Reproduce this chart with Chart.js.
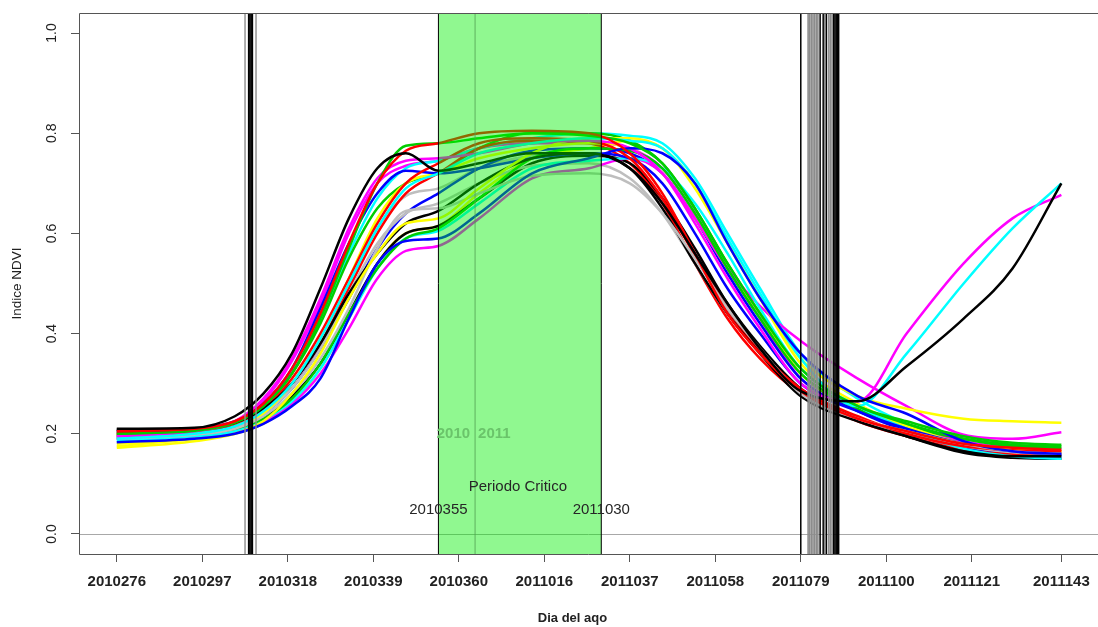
<!DOCTYPE html>
<html lang="es">
<head>
    <meta charset="UTF-8">
    <meta name="viewport" content="width=device-width, initial-scale=1.0">
    <title>Indice NDVI</title>
    <style>
        html, body { margin: 0; padding: 0; background: #fff; overflow: hidden; }
        #wrap { position: relative; width: 1098px; height: 627px; }
    </style>
</head>
<body>
    <div id="wrap"><canvas id="ndvi"></canvas></div>

    <script src="https://cdn.jsdelivr.net/npm/chart.js"></script>
    <script>
        // days counted from Jan 1 2010 (2011xxx -> 365 + xxx)
        var dias = [276, 295, 305, 312, 319, 326, 333, 340, 347, 355, 365, 378, 392, 402, 410, 418, 426, 434, 444, 458, 470, 484, 496, 508];

        var tickDias = [276, 297, 318, 339, 360, 381, 402, 423, 444, 465, 486, 508];
        var tickEtiquetas = ['2010276', '2010297', '2010318', '2010339', '2010360', '2011016', '2011037', '2011058', '2011079', '2011100', '2011121', '2011143'];
        var yTicks = [0, 0.2, 0.4, 0.6, 0.8, 1.0];

        // default R palette
        var paleta = ['#000000', '#FF0000', '#00CD00', '#0000FF', '#00FFFF', '#FF00FF', '#FFFF00', '#BEBEBE'];

        var s01 = [0.210,0.212,0.235,0.280,0.360,0.490,0.630,0.730,0.760,0.725,0.740,0.760,0.760,0.730,0.660,0.560,0.460,0.370,0.285,0.265,0.335,0.430,0.530,0.700];
        var s02 = [0.205,0.210,0.225,0.260,0.330,0.440,0.580,0.700,0.765,0.780,0.800,0.805,0.800,0.760,0.680,0.560,0.440,0.360,0.285,0.230,0.205,0.180,0.172,0.168];
        var s03 = [0.200,0.206,0.222,0.255,0.320,0.430,0.570,0.700,0.775,0.780,0.790,0.800,0.795,0.780,0.740,0.650,0.540,0.440,0.330,0.255,0.225,0.195,0.182,0.178];
        var s04 = [0.183,0.190,0.200,0.220,0.255,0.310,0.430,0.540,0.585,0.590,0.640,0.720,0.750,0.770,0.760,0.700,0.580,0.470,0.360,0.275,0.240,0.185,0.165,0.160];
        var s05 = [0.190,0.200,0.215,0.245,0.300,0.390,0.500,0.610,0.690,0.720,0.760,0.780,0.790,0.785,0.770,0.700,0.590,0.480,0.350,0.255,0.360,0.500,0.610,0.700];
        var s06 = [0.195,0.205,0.225,0.270,0.350,0.470,0.610,0.710,0.745,0.750,0.760,0.780,0.785,0.770,0.720,0.620,0.510,0.410,0.300,0.265,0.400,0.540,0.630,0.677];
        var s07 = [0.172,0.185,0.200,0.225,0.280,0.360,0.470,0.560,0.620,0.630,0.690,0.760,0.790,0.790,0.770,0.700,0.580,0.470,0.350,0.275,0.250,0.230,0.225,0.222];
        var s08 = [0.190,0.198,0.210,0.235,0.280,0.350,0.450,0.570,0.645,0.650,0.680,0.715,0.720,0.700,0.640,0.550,0.450,0.370,0.280,0.230,0.205,0.180,0.165,0.160];
        var s09 = [0.208,0.210,0.222,0.250,0.300,0.380,0.480,0.560,0.620,0.645,0.700,0.750,0.760,0.730,0.650,0.540,0.440,0.360,0.275,0.225,0.195,0.165,0.155,0.155];
        var s10 = [0.200,0.205,0.220,0.250,0.310,0.400,0.510,0.620,0.700,0.740,0.780,0.790,0.785,0.750,0.670,0.555,0.450,0.365,0.290,0.235,0.200,0.175,0.167,0.165];
        var s11 = [0.195,0.200,0.210,0.230,0.270,0.340,0.440,0.530,0.590,0.610,0.670,0.750,0.770,0.765,0.730,0.640,0.530,0.430,0.320,0.255,0.220,0.190,0.175,0.172];
        var s12 = [0.205,0.210,0.225,0.260,0.330,0.450,0.580,0.680,0.725,0.720,0.730,0.750,0.760,0.750,0.700,0.600,0.490,0.400,0.300,0.245,0.210,0.180,0.165,0.158];
        var s13 = [0.185,0.195,0.205,0.228,0.265,0.330,0.430,0.530,0.590,0.605,0.660,0.730,0.745,0.750,0.730,0.660,0.560,0.450,0.330,0.255,0.210,0.170,0.155,0.150];
        var s14 = [0.190,0.195,0.205,0.225,0.260,0.320,0.410,0.510,0.565,0.575,0.630,0.710,0.730,0.750,0.720,0.630,0.530,0.455,0.385,0.310,0.255,0.198,0.190,0.203];
        var s15 = [0.180,0.190,0.205,0.240,0.300,0.390,0.510,0.630,0.700,0.720,0.750,0.770,0.780,0.770,0.720,0.630,0.530,0.440,0.320,0.255,0.215,0.180,0.168,0.165];
        var s16 = [0.195,0.200,0.212,0.240,0.290,0.370,0.480,0.580,0.640,0.660,0.700,0.735,0.740,0.710,0.640,0.540,0.440,0.365,0.285,0.230,0.200,0.175,0.163,0.160];
        var s17 = [0.205,0.208,0.215,0.235,0.275,0.340,0.440,0.540,0.600,0.615,0.670,0.740,0.755,0.740,0.670,0.570,0.460,0.375,0.290,0.230,0.195,0.162,0.152,0.150];
        var s18 = [0.200,0.205,0.218,0.245,0.300,0.380,0.490,0.600,0.680,0.720,0.770,0.785,0.780,0.740,0.660,0.540,0.430,0.350,0.280,0.225,0.195,0.168,0.160,0.160];
        var s19 = [0.200,0.205,0.220,0.255,0.320,0.420,0.550,0.650,0.700,0.720,0.770,0.800,0.800,0.785,0.740,0.650,0.540,0.440,0.320,0.250,0.215,0.190,0.178,0.175];
        var s20 = [0.190,0.198,0.212,0.240,0.290,0.370,0.470,0.570,0.640,0.680,0.730,0.765,0.770,0.760,0.720,0.630,0.520,0.420,0.310,0.245,0.205,0.172,0.158,0.155];
        var s21 = [0.192,0.200,0.218,0.250,0.320,0.430,0.560,0.670,0.730,0.745,0.770,0.790,0.800,0.795,0.780,0.710,0.600,0.490,0.360,0.270,0.220,0.175,0.155,0.150];
        var s22 = [0.195,0.203,0.222,0.265,0.345,0.460,0.600,0.700,0.735,0.745,0.770,0.780,0.780,0.770,0.730,0.640,0.530,0.430,0.310,0.250,0.215,0.185,0.172,0.170];
        var s23 = [0.175,0.190,0.200,0.220,0.260,0.330,0.430,0.540,0.600,0.615,0.680,0.750,0.770,0.785,0.770,0.690,0.580,0.470,0.340,0.260,0.215,0.180,0.168,0.165];
        var s24 = [0.195,0.200,0.215,0.245,0.300,0.390,0.500,0.610,0.675,0.690,0.730,0.755,0.760,0.730,0.660,0.560,0.450,0.370,0.280,0.228,0.198,0.172,0.162,0.160];

        var series = [s01, s02, s03, s04, s05, s06, s07, s08, s09, s10, s11, s12,
                      s13, s14, s15, s16, s17, s18, s19, s20, s21, s22, s23, s24];

        // start / end of season dates (vertical marks)
        var inicioNegro = [308.4, 308.7, 309.0, 309.3];
        var inicioGris = [307.5, 310.2];
        var finNegro = [444.0, 448.75, 449.5, 450.3, 452.1, 452.4, 452.7, 453.0, 453.3];
        var finGris = [445.8, 446.2, 446.6, 447.0, 447.4, 447.8, 448.2, 449.9, 450.9, 451.3, 451.7];

        var periodoIni = 355;
        var periodoFin = 395;
        var cambioAnio = 364;

        var FONT = 'Arial, "Liberation Sans", Helvetica, sans-serif';

        var datasets = series.map(function(vals, i) {
            return {
                label: 'p' + (i + 1),
                data: dias.map(function(d, k) { return { x: d, y: vals[k] }; }),
                borderColor: paleta[i % paleta.length],
                borderWidth: 2.5,
                pointRadius: 0,
                fill: false,
                cubicInterpolationMode: 'monotone'
            };
        });

        function vline(chart, d, color, w) {
            var ctx = chart.ctx, a = chart.chartArea;
            var x = chart.scales.x.getPixelForValue(d);
            ctx.strokeStyle = color;
            ctx.lineWidth = w;
            ctx.beginPath();
            ctx.moveTo(x, a.top);
            ctx.lineTo(x, a.bottom);
            ctx.stroke();
        }

        var extras = {
            id: 'extras',
            beforeDatasetsDraw: function(chart) {
                var ctx = chart.ctx, a = chart.chartArea;
                var y0 = Math.round(chart.scales.y.getPixelForValue(0)) + 0.5;
                ctx.save();
                ctx.strokeStyle = '#a8a8a8';
                ctx.lineWidth = 1;
                ctx.beginPath();
                ctx.moveTo(a.left, y0);
                ctx.lineTo(a.right, y0);
                ctx.stroke();
                ctx.restore();
            },
            afterDatasetsDraw: function(chart) {
                var ctx = chart.ctx, a = chart.chartArea;
                var xs = chart.scales.x, ys = chart.scales.y;
                ctx.save();
                ctx.beginPath();
                ctx.rect(a.left, a.top, a.right - a.left, a.bottom - a.top);
                ctx.clip();

                inicioGris.forEach(function(d) { vline(chart, d, '#8c8c8c', 1.4); });
                inicioNegro.forEach(function(d) { vline(chart, d, '#000', 1.6); });
                finGris.forEach(function(d) { vline(chart, d, '#8c8c8c', 1.6); });
                finNegro.forEach(function(d) { vline(chart, d, '#000', 1.5); });

                // critical period band, drawn over the curves
                var x0 = xs.getPixelForValue(periodoIni);
                var x1 = xs.getPixelForValue(periodoFin);
                ctx.fillStyle = 'rgba(0,239,0,0.435)';
                ctx.fillRect(x0, a.top, x1 - x0, a.bottom - a.top);
                vline(chart, periodoIni, '#000', 1);
                vline(chart, periodoFin, '#000', 1);
                vline(chart, cambioAnio, 'rgba(80,160,80,0.8)', 1);

                var xc = xs.getPixelForValue(cambioAnio);
                ctx.font = 'bold 15px ' + FONT;
                ctx.fillStyle = 'rgb(106,196,106)';
                ctx.textBaseline = 'middle';
                ctx.textAlign = 'right';
                ctx.fillText('2010', xc - 5, ys.getPixelForValue(0.2));
                ctx.textAlign = 'left';
                ctx.fillText('2011', xc + 3, ys.getPixelForValue(0.2));

                ctx.font = '15px ' + FONT;
                ctx.fillStyle = '#262626';
                ctx.textAlign = 'center';
                ctx.fillText('Periodo Critico', xs.getPixelForValue((periodoIni + periodoFin) / 2 - 0.5), ys.getPixelForValue(0.095));
                ctx.fillText('2010355', x0, ys.getPixelForValue(0.048));
                ctx.fillText('2011030', x1, ys.getPixelForValue(0.048));
                ctx.restore();
            },
            afterDraw: function(chart) {
                var ctx = chart.ctx, a = chart.chartArea, ys = chart.scales.y;
                ctx.save();
                // box (right side falls outside the canvas)
                ctx.strokeStyle = '#555';
                ctx.lineWidth = 1;
                ctx.beginPath();
                ctx.moveTo(chart.width, a.top + 0.5);
                ctx.lineTo(a.left + 0.5, a.top + 0.5);
                ctx.lineTo(a.left + 0.5, a.bottom + 0.5);
                ctx.lineTo(chart.width, a.bottom + 0.5);
                ctx.stroke();

                // y tick labels, parallel to the axis
                ctx.font = '14px ' + FONT;
                ctx.fillStyle = '#222';
                ctx.textAlign = 'center';
                ctx.textBaseline = 'middle';
                yTicks.forEach(function(v) {
                    ctx.save();
                    ctx.translate(a.left - 27, ys.getPixelForValue(v));
                    ctx.rotate(-Math.PI / 2);
                    ctx.fillText(v.toFixed(1), 0, 0);
                    ctx.restore();
                });

                // axis titles
                ctx.font = '13.5px ' + FONT;
                ctx.save();
                ctx.translate(17, (a.top + a.bottom) / 2);
                ctx.rotate(-Math.PI / 2);
                ctx.fillText('Indice NDVI', 0, 0);
                ctx.restore();

                ctx.font = 'bold 13px ' + FONT;
                ctx.fillText('Dia del aqo', (a.left + a.right) / 2 - 16, 618);
                ctx.restore();
            }
        };

        var ctx = document.getElementById('ndvi').getContext('2d');
        window.myChart = new Chart(ctx, {
            type: 'line',
            data: { datasets: datasets },
            options: {
                responsive: true,
                maintainAspectRatio: false,
                animation: false,
                devicePixelRatio: 1,
                layout: { padding: { top: 13, right: 0, bottom: 0, left: 0 } },
                plugins: {
                    legend: { display: false },
                    tooltip: { enabled: false }
                },
                scales: {
                    x: {
                        type: 'linear',
                        min: 266.72,
                        max: 517.0,
                        afterBuildTicks: function(scale) {
                            scale.ticks = tickDias.map(function(d) { return { value: d }; });
                        },
                        afterFit: function(scale) {
                            scale.height = 73;
                            scale.paddingLeft = 0;
                            scale.paddingRight = 0;
                        },
                        ticks: {
                            autoSkip: false,
                            maxRotation: 0,
                            padding: 11,
                            color: '#222',
                            font: { family: FONT, size: 15, weight: 'bold' },
                            callback: function(value) {
                                var i = tickDias.indexOf(value);
                                return i >= 0 ? tickEtiquetas[i] : '';
                            }
                        },
                        grid: { drawOnChartArea: false, drawTicks: true, tickLength: 8, color: '#555' },
                        border: { display: false }
                    },
                    y: {
                        type: 'linear',
                        min: -0.04,
                        max: 1.04,
                        afterBuildTicks: function(scale) {
                            scale.ticks = yTicks.map(function(v) { return { value: v }; });
                        },
                        afterFit: function(scale) { scale.width = 79; },
                        ticks: { display: false },
                        grid: { drawOnChartArea: false, drawTicks: true, tickLength: 8, color: '#555' },
                        border: { display: false }
                    }
                }
            },
            plugins: [extras]
        });
    </script>
</body>
</html>
